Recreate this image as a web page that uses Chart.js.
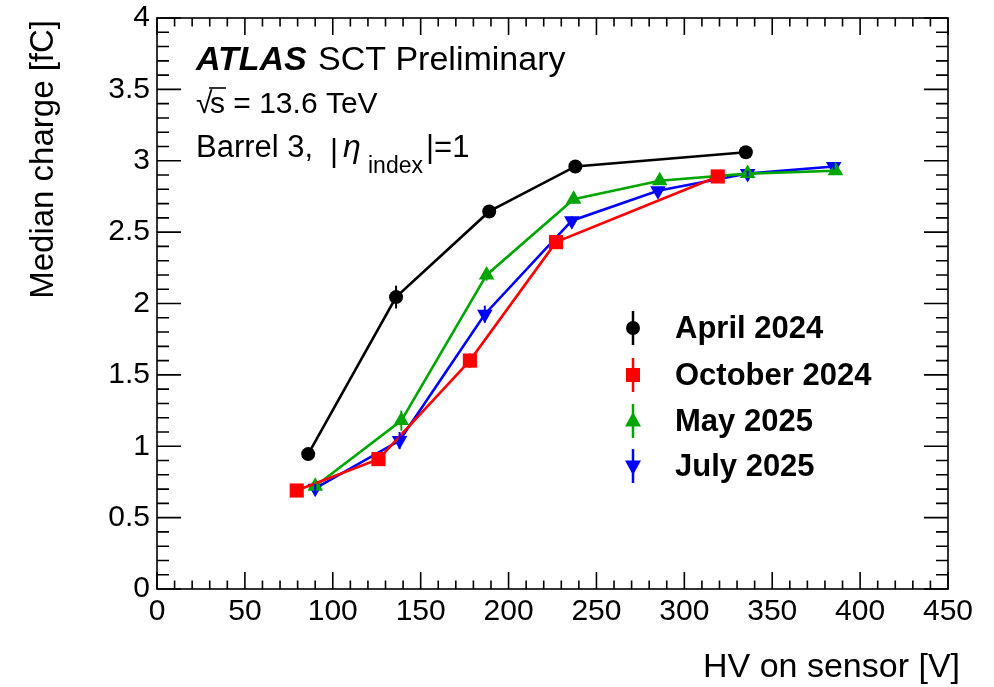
<!DOCTYPE html>
<html>
<head>
<meta charset="utf-8">
<script src="https://cdn.jsdelivr.net/npm/chart.js@4.4.1/dist/chart.umd.min.js"></script>
<style>
  html, body { margin: 0; padding: 0; background: #fff; }
  #wrap { width: 994px; height: 687px; }
</style>
</head>
<body>
<div id="wrap"><canvas id="myChart" width="994" height="687"></canvas></div>
<script>
// values
let seriesNames = ['April 2024', 'October 2024', 'May 2025', 'July 2025'];

let hvApril = [86, 136, 189, 238, 335];
let qApril = [0.945, 2.045, 2.645, 2.96, 3.06];
let errApril = [0.03, 0.08, 0.03, 0.02, 0.02];

let hvOctober = [79.5, 126, 178, 227, 319];
let qOctober = [0.69, 0.91, 1.60, 2.43, 2.89];
let errOctober = [0.02, 0.03, 0.05, 0.03, 0.02];

let hvMay = [90, 139, 187.5, 237, 286, 336, 386];
let qMay = [0.72, 1.18, 2.20, 2.73, 2.86, 2.91, 2.93];
let errMay = [0.03, 0.07, 0.04, 0.03, 0.02, 0.02, 0.02];

let hvJuly = [90, 138, 186.5, 236, 285, 336, 385];
let qJuly = [0.705, 1.04, 1.925, 2.58, 2.79, 2.91, 2.96];
let errJuly = [0.03, 0.06, 0.06, 0.03, 0.02, 0.02, 0.02];

let xTicks = [0, 50, 100, 150, 200, 250, 300, 350, 400, 450];
let yTicks = [0, 0.5, 1, 1.5, 2, 2.5, 3, 3.5, 4];

const FONT = '"Liberation Sans", Arial, Helvetica, sans-serif';

function pts(xs, ys) {
  return xs.map((x, i) => ({ x: x, y: ys[i] }));
}

function drawMarker(ctx, style, x, y, color) {
  ctx.save();
  ctx.fillStyle = color;
  ctx.beginPath();
  if (style === 'circle') {
    ctx.arc(x, y, 7, 0, Math.PI * 2);
  } else if (style === 'rect') {
    ctx.rect(x - 7, y - 7, 14, 14);
  } else if (style === 'up') {
    ctx.moveTo(x, y - 9); ctx.lineTo(x + 8, y + 5.5); ctx.lineTo(x - 8, y + 5.5); ctx.closePath();
  } else {
    ctx.moveTo(x, y + 9); ctx.lineTo(x + 8, y - 5.5); ctx.lineTo(x - 8, y - 5.5); ctx.closePath();
  }
  ctx.fill();
  ctx.restore();
}

// vertical error bars, drawn through the scales
const errorBars = {
  id: 'errorBars',
  afterDatasetsDraw(chart) {
    const ctx = chart.ctx;
    const xs = chart.scales.x, ys = chart.scales.y;
    chart.data.datasets.forEach(ds => {
      ctx.save();
      ctx.strokeStyle = ds.borderColor;
      ctx.lineWidth = 2;
      ds.data.forEach((p, i) => {
        const e = ds.errors[i];
        const px = xs.getPixelForValue(p.x);
        ctx.beginPath();
        ctx.moveTo(px, ys.getPixelForValue(p.y - e));
        ctx.lineTo(px, ys.getPixelForValue(p.y + e));
        ctx.stroke();
      });
      ctx.restore();
    });
  }
};

// ROOT style frame with inside ticks on all four sides
const frame = {
  id: 'frame',
  afterDraw(chart) {
    const ctx = chart.ctx;
    const a = chart.chartArea;
    const xs = chart.scales.x, ys = chart.scales.y;
    ctx.save();
    ctx.strokeStyle = '#000';
    ctx.lineWidth = 1.6;
    ctx.strokeRect(a.left, a.top, a.right - a.left, a.bottom - a.top);
    ctx.beginPath();
    for (let v = 0; v <= 450 + 1e-6; v += 10) {
      const len = (Math.round(v) % 50 === 0) ? 17 : 8.5;
      const px = xs.getPixelForValue(v);
      ctx.moveTo(px, a.bottom); ctx.lineTo(px, a.bottom - len);
      ctx.moveTo(px, a.top); ctx.lineTo(px, a.top + len);
    }
    for (let i = 0; i <= 40; i++) {
      const v = i / 10;
      const len = (i % 5 === 0) ? 24 : 12;
      const py = ys.getPixelForValue(v);
      ctx.moveTo(a.left, py); ctx.lineTo(a.left + len, py);
      ctx.moveTo(a.right, py); ctx.lineTo(a.right - len, py);
    }
    ctx.stroke();
    ctx.restore();
  }
};

// titles, labels and legend
const texts = {
  id: 'texts',
  afterDraw(chart) {
    const ctx = chart.ctx;
    ctx.save();
    ctx.fillStyle = '#000';
    ctx.textBaseline = 'alphabetic';
    ctx.textAlign = 'left';

    ctx.font = 'italic bold 34px ' + FONT;
    ctx.fillText('ATLAS', 196, 70);
    ctx.font = '34px ' + FONT;
    ctx.fillText('SCT Preliminary', 318, 70);

    ctx.font = '30px ' + FONT;
    ctx.fillText('\u221A', 196, 113);
    ctx.fillText('s = 13.6 TeV', 210, 113);
    ctx.lineWidth = 1.6;
    ctx.strokeStyle = '#000';
    ctx.beginPath();
    ctx.moveTo(209, 88); ctx.lineTo(226, 88);
    ctx.stroke();

    ctx.font = '31px ' + FONT;
    ctx.fillText('Barrel 3,', 196, 157);
    ctx.fillText('|', 330, 161);
    ctx.font = 'italic 32px ' + FONT;
    ctx.fillText('\u03B7', 343, 157);
    ctx.font = '23px ' + FONT;
    ctx.fillText('index', 368, 173);
    ctx.font = '31px ' + FONT;
    ctx.fillText('|=1', 426, 157);

    // axis titles
    ctx.font = '34px ' + FONT;
    ctx.textAlign = 'right';
    ctx.fillText('HV on sensor [V]', 960, 677);
    ctx.font = '33px ' + FONT;
    ctx.save();
    ctx.translate(53, 20);
    ctx.rotate(-Math.PI / 2);
    ctx.fillText('Median charge [fC]', 0, 0);
    ctx.restore();

    // legend
    const rows = [328, 375, 421, 466];
    const styles = ['circle', 'rect', 'up', 'down'];
    ctx.textAlign = 'left';
    ctx.textBaseline = 'middle';
    ctx.font = 'bold 31px ' + FONT;
    chart.data.datasets.forEach((ds, i) => {
      const y = rows[i];
      ctx.strokeStyle = ds.borderColor;
      ctx.lineWidth = 2.5;
      ctx.beginPath();
      ctx.moveTo(633, y - 17); ctx.lineTo(633, y + 17);
      ctx.stroke();
      drawMarker(ctx, styles[i], 633, y, ds.borderColor);
      ctx.fillStyle = '#000';
      ctx.fillText(seriesNames[i], 675, y + 1);
    });
    ctx.restore();
  }
};

let myChart = new Chart(document.getElementById('myChart'), {
  type: 'scatter',
  data: {
    datasets: [{
      label: seriesNames[0],
      data: pts(hvApril, qApril),
      errors: errApril,
      borderColor: '#000000',
      backgroundColor: '#000000',
      pointStyle: 'circle',
      pointRadius: 7
    }, {
      label: seriesNames[1],
      data: pts(hvOctober, qOctober),
      errors: errOctober,
      borderColor: '#ff0000',
      backgroundColor: '#ff0000',
      pointStyle: 'rect',
      pointRadius: 10
    }, {
      label: seriesNames[2],
      data: pts(hvMay, qMay),
      errors: errMay,
      borderColor: '#00a600',
      backgroundColor: '#00a600',
      pointStyle: 'triangle',
      pointRadius: 9
    }, {
      label: seriesNames[3],
      data: pts(hvJuly, qJuly),
      errors: errJuly,
      borderColor: '#0000ff',
      backgroundColor: '#0000ff',
      pointStyle: 'triangle',
      pointRotation: 180,
      pointRadius: 9
    }].map(ds => Object.assign(ds, {
      showLine: true,
      borderWidth: 2.6,
      pointBorderWidth: 0,
      tension: 0
    }))
  },
  plugins: [errorBars, frame, texts],
  options: {
    responsive: false,
    animation: false,
    devicePixelRatio: 1,
    layout: { padding: { top: 18, right: 46, left: 0, bottom: 0 } },
    plugins: {
      legend: { display: false },
      tooltip: { enabled: false }
    },
    scales: {
      x: {
        type: 'linear',
        min: 0,
        max: 450,
        afterFit: s => { s.height = 98; s.paddingLeft = 0; s.paddingRight = 0; },
        afterBuildTicks: s => { s.ticks = xTicks.map(v => ({ value: v })); },
        grid: { display: false, drawTicks: false },
        border: { display: false },
        ticks: {
          color: '#000',
          padding: 5,
          maxRotation: 0,
          autoSkip: false,
          font: { family: FONT, size: 30 }
        }
      },
      y: {
        type: 'linear',
        min: 0,
        max: 4,
        afterFit: s => { s.width = 157; s.paddingTop = 0; s.paddingBottom = 0; },
        afterBuildTicks: s => { s.ticks = yTicks.map(v => ({ value: v })); },
        grid: { display: false, drawTicks: false },
        border: { display: false },
        ticks: {
          color: '#000',
          padding: 7,
          autoSkip: false,
          callback: v => String(v),
          font: { family: FONT, size: 30 }
        }
      }
    }
  }
});
</script>
</body>
</html>
